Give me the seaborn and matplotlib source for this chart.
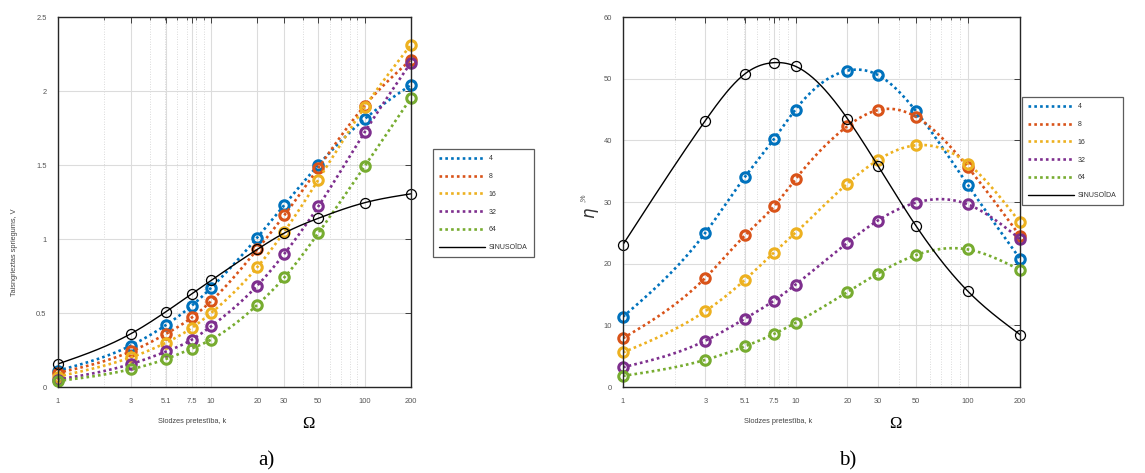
import numpy as np
import pandas as pd
import matplotlib
matplotlib.use('Agg')
import matplotlib.pyplot as plt
from matplotlib.lines import Line2D
import seaborn as sns

# load resistance values (x axis, log scale)
k_vals = [1, 3, 5.1, 7.5, 10, 20, 30, 50, 100, 200]
k_ticks = [1, 3, 5.1, 7.5, 10, 20, 30, 50, 100, 200]
k_tick_labels = ["1", "3", "5.1", "7.5", "10", "20", "30", "50", "100", "200"]

series_names = ["4", "8", "16", "32", "64"]

# panel a) rectified voltage, V
volt_4 = [0.11, 0.28, 0.42, 0.55, 0.67, 1.01, 1.23, 1.50, 1.81, 2.04]
volt_8 = [0.095, 0.24, 0.36, 0.47, 0.58, 0.93, 1.16, 1.48, 1.90, 2.21]
volt_16 = [0.07, 0.20, 0.30, 0.40, 0.50, 0.81, 1.05, 1.40, 1.89, 2.31]
volt_32 = [0.05, 0.155, 0.24, 0.32, 0.41, 0.685, 0.90, 1.22, 1.72, 2.19]
volt_64 = [0.04, 0.12, 0.19, 0.26, 0.32, 0.555, 0.74, 1.04, 1.49, 1.95]
volt_sin = [0.155, 0.36, 0.51, 0.63, 0.72, 0.93, 1.04, 1.14, 1.245, 1.305]

# panel b) efficiency, %
eta_4 = [11.4, 25.0, 34.1, 40.2, 45.0, 51.3, 50.6, 44.7, 32.7, 20.8]
eta_8 = [7.9, 17.7, 24.6, 29.3, 33.7, 42.3, 44.9, 43.8, 35.6, 24.5]
eta_16 = [5.6, 12.3, 17.4, 21.8, 25.0, 33.0, 36.8, 39.2, 36.2, 26.7]
eta_32 = [3.2, 7.5, 11.1, 14.0, 16.6, 23.4, 27.0, 29.9, 29.6, 24.0]
eta_64 = [1.8, 4.4, 6.6, 8.6, 10.4, 15.4, 18.4, 21.4, 22.3, 19.0]
eta_sin = [23.1, 43.2, 50.8, 52.6, 52.0, 43.5, 35.9, 26.1, 15.5, 8.5]

colors = ["#0072BD", "#D95319", "#EDB120", "#7E2F8E", "#77AC30"]
DOT = (0, (1, 1.2))
TICK_FONT = "Liberation Sans"


def smooth(x, y, n=300):
    # natural cubic spline in log10(x), only for drawing the curve
    u = np.log10(np.asarray(x, float))
    y = np.asarray(y, float)
    m = len(u)
    h = np.diff(u)
    A = np.zeros((m, m))
    b = np.zeros(m)
    A[0, 0] = A[-1, -1] = 1
    for i in range(1, m - 1):
        A[i, i - 1] = h[i - 1]
        A[i, i] = 2 * (h[i - 1] + h[i])
        A[i, i + 1] = h[i]
        b[i] = 3 * ((y[i + 1] - y[i]) / h[i] - (y[i] - y[i - 1]) / h[i - 1])
    c = np.linalg.solve(A, b)
    uu = np.linspace(u[0], u[-1], n)
    idx = np.clip(np.searchsorted(u, uu) - 1, 0, m - 2)
    d = uu - u[idx]
    hi = h[idx]
    bb = (y[idx + 1] - y[idx]) / hi - hi * (2 * c[idx] + c[idx + 1]) / 3
    dd = (c[idx + 1] - c[idx]) / (3 * hi)
    yy = y[idx] + bb * d + c[idx] * d ** 2 + dd * d ** 3
    return 10 ** uu, yy


def draw_panel(ax, series, sin_vals, ylim, yticks, yticklabels):
    for vals, col in zip(series, colors):
        xs, ys = smooth(k_vals, vals)
        sns.lineplot(x=xs, y=ys, ax=ax, color=col, linestyle=DOT, lw=1.9,
                     sort=False, estimator=None)
        ax.lines[-1].set_dash_capstyle("butt")
        sns.lineplot(x=k_vals, y=vals, ax=ax, color=col, linestyle="none",
                     marker="o", markersize=6.8, markerfacecolor="none",
                     markeredgecolor=col, markeredgewidth=2.2,
                     estimator=None, clip_on=False)
    xs, ys = smooth(k_vals, sin_vals)
    sns.lineplot(x=xs, y=ys, ax=ax, color="black", lw=1.0, sort=False,
                 estimator=None)
    sns.lineplot(x=k_vals, y=sin_vals, ax=ax, color="black", linestyle="none",
                 marker="o", markersize=7.2, markerfacecolor="none",
                 markeredgecolor="black", markeredgewidth=0.9,
                 estimator=None, clip_on=False)

    ax.set_xscale("log")
    ax.set_xlim(1, 200)
    ax.set_ylim(*ylim)
    ax.set_xticks(k_ticks)
    ax.set_xticklabels(k_tick_labels)
    ax.set_yticks(yticks)
    ax.set_yticklabels(yticklabels)
    minors = [v for v in list(range(2, 10)) + list(range(20, 100, 10))
              if v not in k_ticks]
    ax.set_xticks(minors, minor=True)
    ax.grid(True, which="major", color="#dcdcdc", lw=0.8, ls="-")
    ax.grid(True, which="minor", axis="x", color="#cfcfcf", lw=0.6, ls=(0, (1, 2)))
    ax.tick_params(which="both", direction="in", top=True, right=True,
                   labelsize=5.4, labelcolor="#555555", color="#262626")
    ax.tick_params(which="major", length=4, width=0.6, pad=8)
    ax.tick_params(which="minor", length=2, width=0.5, labelbottom=False)
    for lab in ax.get_xticklabels() + ax.get_yticklabels():
        lab.set_fontfamily(TICK_FONT)
    for sp in ax.spines.values():
        sp.set_color("#262626")
        sp.set_linewidth(1.0)
    ax.set_xlabel("")
    ax.set_ylabel("")


def add_legend(fig, ax, x0, ytop):
    handles = [Line2D([], [], color=c, lw=1.9, ls=DOT, dash_capstyle="butt")
               for c in colors]
    handles.append(Line2D([], [], color="black", lw=1.0))
    labels = series_names + ["SINUSOĪDA"]
    leg = ax.legend(handles, labels, loc="upper left",
                    bbox_to_anchor=(x0, ytop), bbox_transform=fig.transFigure,
                    borderaxespad=0, frameon=True, fancybox=False,
                    handlelength=6.6, handletextpad=0.5, labelspacing=1.55,
                    borderpad=0.9, prop={"family": TICK_FONT, "size": 5})
    leg.get_frame().set_edgecolor("#333333")
    leg.get_frame().set_linewidth(0.9)
    for t in leg.get_texts():
        t.set_color("#333333")
    return leg


sns.set_theme(style="white")
plt.rcParams["font.family"] = ["Liberation Sans", "DejaVu Sans"]

fig = plt.figure(figsize=(11.45, 4.73), dpi=100)
ax1 = fig.add_axes([57.7 / 1145, 1 - 387 / 473, 353 / 1145, 370 / 473])
ax2 = fig.add_axes([623 / 1145, 1 - 387 / 473, 397 / 1145, 370 / 473])

draw_panel(ax1, [volt_4, volt_8, volt_16, volt_32, volt_64], volt_sin,
           (0, 2.5), [0, 0.5, 1, 1.5, 2, 2.5], ["0", "0.5", "1", "1.5", "2", "2.5"])
draw_panel(ax2, [eta_4, eta_8, eta_16, eta_32, eta_64], eta_sin,
           (0, 60), [0, 10, 20, 30, 40, 50, 60], ["0", "10", "20", "30", "40", "50", "60"])

add_legend(fig, ax1, 433 / 1145, 1 - 149 / 473)
add_legend(fig, ax2, 1022 / 1145, 1 - 97 / 473)

# axis titles
W, H = 1145, 473
txt = dict(family=TICK_FONT, size=5.3, color="#444444")
fig.text(192 / W, 1 - 421 / H, "Slodzes pretestība, k", ha="center", va="center", **txt)
fig.text(778 / W, 1 - 421 / H, "Slodzes pretestība, k", ha="center", va="center", **txt)
fig.text(15 / W, 1 - 252 / H, "Taisngrieztas spriegums, V", rotation=90,
         ha="center", va="center", **txt)
fig.text(592 / W, 1 - 213 / H, r"$\eta$", rotation=90, ha="center", va="center",
         size=12, color="#333333")
fig.text(583 / W, 1 - 198 / H, ",%", rotation=90, ha="center", va="center", **txt)

serif = dict(family="Liberation Serif", color="black")
fig.text(308 / W, 1 - 424 / H, "Ω", ha="center", va="center", size=12, **serif)
fig.text(895 / W, 1 - 424 / H, "Ω", ha="center", va="center", size=12, **serif)
fig.text(266 / W, 1 - 461 / H, "a)", ha="center", va="center", size=15, **serif)
fig.text(848 / W, 1 - 461 / H, "b)", ha="center", va="center", size=15, **serif)

fig.savefig("out.png", dpi=100)
